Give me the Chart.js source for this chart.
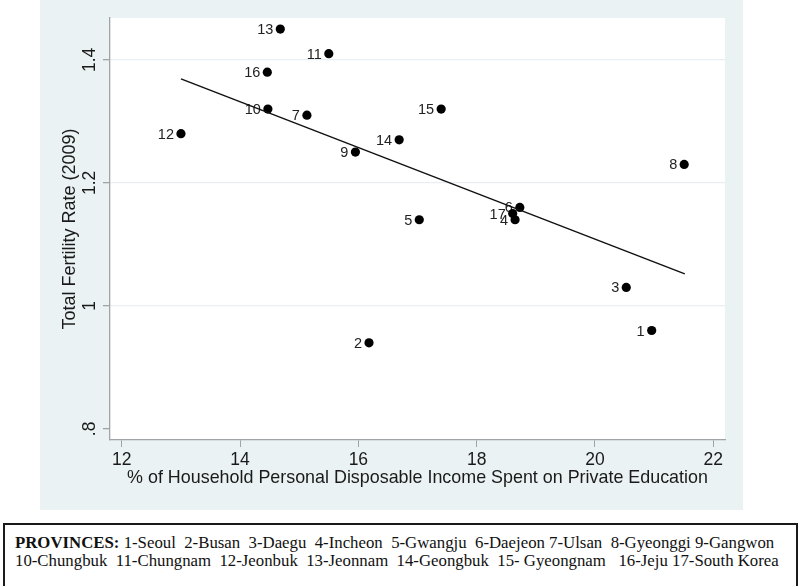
<!DOCTYPE html>
<html>
<head>
<meta charset="utf-8">
<script src="https://cdn.jsdelivr.net/npm/chart.js@4.4.1/dist/chart.umd.min.js"></script>
<style>
    body { margin: 0; width: 800px; height: 586px; background: #fff; position: relative; overflow: hidden; }
    #wrap { position: absolute; left: 40px; top: 0; width: 703px; height: 510px; background: #eaf2f3; }
    #provinces {
        position: absolute; left: 3px; top: 523px; width: 791px; height: 58px;
        border: 2px solid #1a1a1a; font-family: "Liberation Serif", "Times New Roman", serif;
        font-size: 16.8px; color: #111; line-height: 18px; padding-top: 9px; box-sizing: content-box;
    }
    #provinces div { white-space: pre; padding-left: 10px; }
</style>
</head>
<body>
<div id="wrap"><canvas id="chart" width="703" height="510"></canvas></div>
<div id="provinces">
    <div><b>PROVINCES:</b> 1-Seoul  2-Busan  3-Daegu  4-Incheon  5-Gwangju  6-Daejeon 7-Ulsan  8-Gyeonggi 9-Gangwon</div>
    <div>10-Chungbuk  11-Chungnam  12-Jeonbuk  13-Jeonnam  14-Geongbuk  15- Gyeongnam   16-Jeju 17-South Korea</div>
</div>
<script>
const provinceIds = ['1', '2', '3', '4', '5', '6', '7', '8', '9', '10', '11', '12', '13', '14', '15', '16', '17'];
const spending = [20.96, 16.18, 20.53, 18.65, 17.03, 18.73, 15.13, 21.51, 15.95, 14.47, 15.50, 13.00, 14.68, 16.69, 17.40, 14.46, 18.61];
const fertility = [0.96, 0.94, 1.03, 1.14, 1.14, 1.16, 1.31, 1.23, 1.25, 1.32, 1.41, 1.28, 1.45, 1.27, 1.32, 1.38, 1.15];
const fitLineX = [13.0, 21.52];
const fitLineY = [1.369, 1.052];
const xTickValues = [12, 14, 16, 18, 20, 22];
const yTickValues = [0.8, 1, 1.2, 1.4];
const yTickLabels = ['.8', '1', '1.2', '1.4'];

const AXIS_COLOR = '#a0a4a6';
const GRID_COLOR = '#e9eff1';
const TEXT_COLOR = '#1a1a1a';
const SANS = '"Liberation Sans", Arial, sans-serif';

const plotBackground = {
    id: 'plotBackground',
    beforeDraw(chart) {
        const { ctx, chartArea } = chart;
        ctx.save();
        ctx.fillStyle = '#ffffff';
        ctx.fillRect(chartArea.left, chartArea.top, chartArea.right - chartArea.left, chartArea.bottom - chartArea.top);
        ctx.restore();
    }
};

const pointLabels = {
    id: 'pointLabels',
    beforeDatasetsDraw(chart) {
        const { ctx, scales } = chart;
        ctx.save();
        ctx.font = `14.5px ${SANS}`;
        ctx.fillStyle = '#222';
        ctx.textAlign = 'right';
        ctx.textBaseline = 'middle';
        provinceIds.forEach((id, i) => {
            const px = scales.x.getPixelForValue(spending[i]);
            const py = scales.y.getPixelForValue(fertility[i]);
            ctx.fillText(id, px - 7, py + 1);
        });
        ctx.restore();
    }
};

// Stata-style vertical y tick labels
const rotatedYTicks = {
    id: 'rotatedYTicks',
    afterDraw(chart) {
        const { ctx, scales } = chart;
        ctx.save();
        ctx.font = `17.5px ${SANS}`;
        ctx.fillStyle = TEXT_COLOR;
        ctx.textAlign = 'center';
        ctx.textBaseline = 'middle';
        yTickValues.forEach((v, i) => {
            const py = scales.y.getPixelForValue(v);
            ctx.save();
            ctx.translate(50, py);
            ctx.rotate(-Math.PI / 2);
            ctx.fillText(yTickLabels[i], 0, 0);
            ctx.restore();
        });
        ctx.restore();
    }
};

new Chart(document.getElementById('chart'), {
    type: 'scatter',
    data: {
        datasets: [{
            type: 'line',
            data: fitLineX.map((x, i) => ({ x, y: fitLineY[i] })),
            borderColor: '#111',
            borderWidth: 1.5,
            pointRadius: 0,
            fill: false
        }, {
            data: spending.map((x, i) => ({ x, y: fertility[i] })),
            backgroundColor: '#000',
            borderColor: '#000',
            borderWidth: 0,
            pointRadius: 4.6
        }]
    },
    options: {
        responsive: false,
        animation: false,
        layout: { padding: { top: 18, right: 18, left: 0, bottom: 0 } },
        plugins: { legend: { display: false }, tooltip: { enabled: false } },
        scales: {
            x: {
                type: 'linear',
                min: 11.8,
                max: 22.2,
                afterBuildTicks: (scale) => { scale.ticks = xTickValues.map((value) => ({ value })); },
                afterFit: (scale) => { scale.height = 70; },
                border: { color: AXIS_COLOR, width: 1.3 },
                grid: { drawOnChartArea: false, tickLength: 7, tickColor: AXIS_COLOR },
                ticks: { color: TEXT_COLOR, font: { family: SANS, size: 17.5 }, padding: 3, maxRotation: 0 },
                title: {
                    display: true,
                    text: '% of Household Personal Disposable Income Spent on Private Education',
                    color: TEXT_COLOR,
                    font: { family: SANS, size: 17.9 },
                    padding: { top: 0, bottom: 21 }
                }
            },
            y: {
                min: 0.782,
                max: 1.468,
                afterBuildTicks: (scale) => { scale.ticks = yTickValues.map((value) => ({ value })); },
                afterFit: (scale) => { scale.width = 70; },
                border: { color: AXIS_COLOR, width: 1.3 },
                grid: {
                    color: (c) => (c.tick && c.tick.value === 0.8 ? 'rgba(0,0,0,0)' : GRID_COLOR),
                    lineWidth: 1.3,
                    tickLength: 7,
                    tickColor: AXIS_COLOR
                },
                ticks: { display: false },
                title: {
                    display: true,
                    text: 'Total Fertility Rate (2009)',
                    color: TEXT_COLOR,
                    font: { family: SANS, size: 18 },
                    padding: { top: 19, bottom: 0 }
                }
            }
        }
    },
    plugins: [plotBackground, pointLabels, rotatedYTicks]
});
</script>
</body>
</html>
